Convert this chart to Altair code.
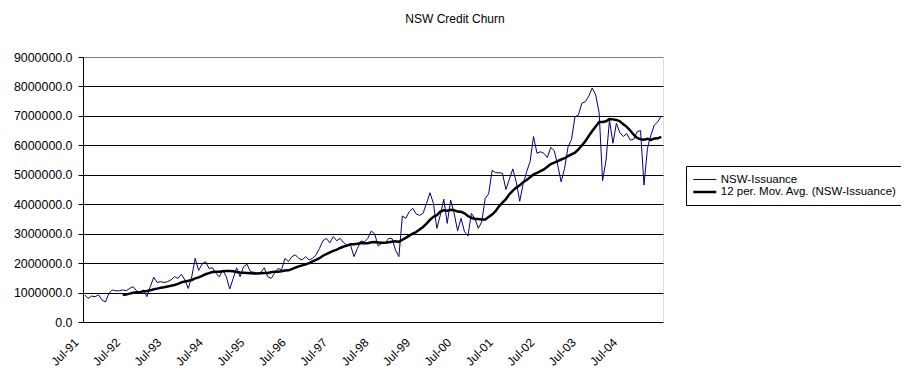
import altair as alt
import pandas as pd

# Monthly NSW issuance, Jul-91 .. Jun-05
issuance = [
    920000, 800000, 880000, 860000, 920000, 750000, 680000, 970000, 1090000, 1060000, 1060000, 1090000,
    1060000, 1140000, 1200000, 1060000, 990000, 1090000, 860000, 1200000, 1520000, 1340000, 1370000, 1340000,
    1370000, 1430000, 1540000, 1480000, 1620000, 1430000, 1140000, 1540000, 2160000, 1750000, 1970000, 2050000,
    1820000, 1840000, 1650000, 1540000, 1770000, 1540000, 1120000, 1480000, 1840000, 1540000, 1880000, 1960000,
    1710000, 1690000, 1650000, 1690000, 1840000, 1540000, 1480000, 1650000, 1820000, 1770000, 2160000, 2050000,
    2220000, 2280000, 2160000, 2110000, 2220000, 2110000, 2160000, 2280000, 2500000, 2760000, 2840000, 2690000,
    2900000, 2760000, 2840000, 2690000, 2610000, 2610000, 2220000, 2500000, 2750000, 2720000, 2840000, 3090000,
    2990000, 2580000, 2670000, 2670000, 2840000, 2840000, 2450000, 2220000, 3600000, 3520000, 3750000, 3860000,
    3670000, 3620000, 3690000, 4030000, 4390000, 4030000, 3180000, 3630000, 4170000, 3350000, 4140000, 3690000,
    3100000, 3520000, 3070000, 2920000, 3690000, 3520000, 3180000, 3400000, 4200000, 4350000, 5150000, 5070000,
    5070000, 5050000, 4500000, 4850000, 5200000, 4750000, 4100000, 4700000, 5100000, 5450000, 6300000, 5730000,
    5780000, 5730000, 5590000, 5930000, 5820000, 5330000, 4760000, 5220000, 5950000, 6200000, 6970000, 7030000,
    7430000, 7480000, 7670000, 7950000, 7710000, 7110000, 4800000, 5500000, 6860000, 6070000, 6750000, 6430000,
    6300000, 6400000, 6180000, 6200000, 6460000, 6500000, 4650000, 5900000, 6350000, 6690000, 6800000, 7000000,
]
tick_labels = ["Jul-91", "Jul-92", "Jul-93", "Jul-94", "Jul-95", "Jul-96", "Jul-97",
               "Jul-98", "Jul-99", "Jul-00", "Jul-01", "Jul-02", "Jul-03", "Jul-04"]
series_names = ["NSW-Issuance", "12 per. Mov. Avg. (NSW-Issuance)"]
series_colors = ["#000080", "#000000"]
series_widths = [1, 2.5]
y_ticks = [0, 1000000, 2000000, 3000000, 4000000, 5000000, 6000000, 7000000, 8000000, 9000000]

FONT = "Liberation Sans"
n = len(issuance)
H = 265

df = pd.DataFrame({"idx": list(range(n)), "value": issuance})
df["x"] = df["idx"] + 0.5
labels_df = pd.DataFrame({"pos": [12 * k for k in range(len(tick_labels))], "label": tick_labels})

x_scale = alt.Scale(domain=[0, n], nice=False, zero=False)
x_enc = alt.X(
    "x:Q",
    scale=x_scale,
    axis=alt.Axis(
        values=list(range(0, n + 1, 12)), labels=False,
        grid=False, title=None, tickColor="black", domainColor="black", tickSize=5,
    ),
)


def y_enc(field):
    return alt.Y(
        field,
        scale=alt.Scale(domain=[0, 9000000], nice=False),
        axis=alt.Axis(
            values=y_ticks, format=".1f", grid=True,
            gridColor={"condition": {"test": "datum.value >= 9000000", "value": "#808080"}, "value": "#000000"},
            gridWidth=1, gridOpacity=1, title=None, tickColor="black", domainColor="black",
            tickSize=5, labelFontSize=12.4, labelFont=FONT, labelColor="black", labelPadding=6,
        ),
    )


legend = alt.Legend(
    title=None, orient="none", legendX=603, legendY=109,
    strokeColor="black", fillColor="white", padding=7,
    labelFont=FONT, labelFontSize=11.5, labelColor="black", labelOffset=9, labelLimit=400,
    symbolType="M-2,0H2", symbolSize=132, rowPadding=-0.4, symbolOffset=4.75,
)
color = alt.Color("series:N", scale=alt.Scale(domain=series_names, range=series_colors), legend=legend)
width = alt.StrokeWidth("series:N", scale=alt.Scale(domain=series_names, range=series_widths), legend=legend)

base = alt.Chart(df)

raw = base.transform_calculate(series="'" + series_names[0] + "'").mark_line().encode(
    x=x_enc, y=y_enc("value:Q"), color=color, strokeWidth=width
)
ma = (
    base.transform_window(ma="mean(value)", frame=[-11, 0], sort=[alt.SortField("idx")])
    .transform_filter("datum.idx >= 11")
    .transform_calculate(series="'" + series_names[1] + "'")
    .mark_line()
    .encode(x=x_enc, y=y_enc("ma:Q"), color=color, strokeWidth=width)
)
xlabels = alt.Chart(labels_df).mark_text(
    angle=315, align="right", baseline="top", font=FONT, fontSize=12, color="black", dx=-14
).encode(
    x=alt.X("pos:Q", scale=x_scale, axis=None),
    y=alt.value(H + 5),
    text="label:N",
)

chart = (
    alt.layer(raw, ma, xlabels)
    .properties(
        width=580, height=H,
        title=alt.TitleParams("NSW Credit Churn", font=FONT, fontSize=12, fontWeight="normal",
                              color="black", anchor="middle", dx=82, offset=25),
        autosize=alt.AutoSizeParams(type="none"),
        padding={"left": 75, "top": 49, "right": 238, "bottom": 48},
    )
    .configure_view(fill="#C0C0C0", stroke="#808080", strokeWidth=1)
    .configure(background="white")
)

chart.save("out.html", embed_options={"renderer": "svg", "actions": False})
